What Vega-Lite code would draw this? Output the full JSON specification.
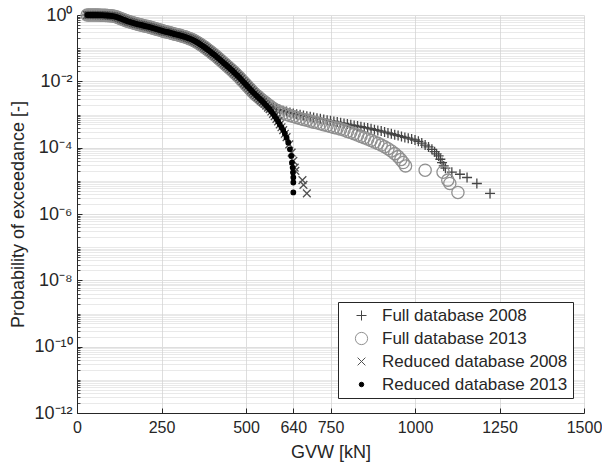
{
"$schema": "https://vega.github.io/schema/vega-lite/v6.json",
"width": 507, "height": 398,
"autosize": {"type": "none"},
"padding": {"left": 77, "top": 15, "right": 18, "bottom": 57},
"background": "white",
"config": {"view": {"stroke": null}, "font": "Liberation Sans"},
"datasets": {
"pts": [
{"series":"Full database 2008","gvw":30,"p":1},{"series":"Full database 2008","gvw":35,"p":1},{"series":"Full database 2008","gvw":40,"p":1},{"series":"Full database 2008","gvw":45,"p":1},{"series":"Full database 2008","gvw":50,"p":1},{"series":"Full database 2008","gvw":55,"p":1},{"series":"Full database 2008","gvw":60,"p":1},{"series":"Full database 2008","gvw":65,"p":0.9931},{"series":"Full database 2008","gvw":70,"p":0.9886},{"series":"Full database 2008","gvw":75,"p":0.984},{"series":"Full database 2008","gvw":80,"p":0.977},{"series":"Full database 2008","gvw":85,"p":0.973},{"series":"Full database 2008","gvw":90,"p":0.966},{"series":"Full database 2008","gvw":95,"p":0.955},{"series":"Full database 2008","gvw":100,"p":0.944},{"series":"Full database 2008","gvw":105,"p":0.929},{"series":"Full database 2008","gvw":110,"p":0.912},{"series":"Full database 2008","gvw":115,"p":0.881},{"series":"Full database 2008","gvw":120,"p":0.851},{"series":"Full database 2008","gvw":125,"p":0.813},{"series":"Full database 2008","gvw":130,"p":0.776},{"series":"Full database 2008","gvw":135,"p":0.741},{"series":"Full database 2008","gvw":140,"p":0.708},{"series":"Full database 2008","gvw":145,"p":0.676},{"series":"Full database 2008","gvw":150,"p":0.646},{"series":"Full database 2008","gvw":155,"p":0.624},{"series":"Full database 2008","gvw":160,"p":0.603},{"series":"Full database 2008","gvw":165,"p":0.582},{"series":"Full database 2008","gvw":170,"p":0.562},{"series":"Full database 2008","gvw":175,"p":0.543},{"series":"Full database 2008","gvw":180,"p":0.525},{"series":"Full database 2008","gvw":185,"p":0.513},{"series":"Full database 2008","gvw":190,"p":0.501},{"series":"Full database 2008","gvw":195,"p":0.484},{"series":"Full database 2008","gvw":200,"p":0.468},{"series":"Full database 2008","gvw":205,"p":0.457},{"series":"Full database 2008","gvw":210,"p":0.447},{"series":"Full database 2008","gvw":215,"p":0.432},{"series":"Full database 2008","gvw":220,"p":0.417},{"series":"Full database 2008","gvw":225,"p":0.403},{"series":"Full database 2008","gvw":230,"p":0.389},{"series":"Full database 2008","gvw":235,"p":0.376},{"series":"Full database 2008","gvw":240,"p":0.363},{"series":"Full database 2008","gvw":245,"p":0.351},{"series":"Full database 2008","gvw":250,"p":0.339},{"series":"Full database 2008","gvw":255,"p":0.327},{"series":"Full database 2008","gvw":260,"p":0.316},{"series":"Full database 2008","gvw":265,"p":0.309},{"series":"Full database 2008","gvw":270,"p":0.302},{"series":"Full database 2008","gvw":275,"p":0.292},{"series":"Full database 2008","gvw":280,"p":0.282},{"series":"Full database 2008","gvw":285,"p":0.272},{"series":"Full database 2008","gvw":290,"p":0.263},{"series":"Full database 2008","gvw":295,"p":0.257},{"series":"Full database 2008","gvw":300,"p":0.251},{"series":"Full database 2008","gvw":305,"p":0.243},{"series":"Full database 2008","gvw":310,"p":0.234},{"series":"Full database 2008","gvw":315,"p":0.226},{"series":"Full database 2008","gvw":320,"p":0.219},{"series":"Full database 2008","gvw":325,"p":0.209},{"series":"Full database 2008","gvw":330,"p":0.2},{"series":"Full database 2008","gvw":335,"p":0.191},{"series":"Full database 2008","gvw":340,"p":0.182},{"series":"Full database 2008","gvw":345,"p":0.172},{"series":"Full database 2008","gvw":350,"p":0.162},{"series":"Full database 2008","gvw":355,"p":0.151},{"series":"Full database 2008","gvw":360,"p":0.141},{"series":"Full database 2008","gvw":365,"p":0.13},{"series":"Full database 2008","gvw":370,"p":0.12},{"series":"Full database 2008","gvw":375,"p":0.111},{"series":"Full database 2008","gvw":380,"p":0.102},{"series":"Full database 2008","gvw":385,"p":0.0933},{"series":"Full database 2008","gvw":390,"p":0.0851},{"series":"Full database 2008","gvw":395,"p":0.0776},{"series":"Full database 2008","gvw":400,"p":0.0708},{"series":"Full database 2008","gvw":405,"p":0.0646},{"series":"Full database 2008","gvw":410,"p":0.0589},{"series":"Full database 2008","gvw":415,"p":0.0531},{"series":"Full database 2008","gvw":420,"p":0.0479},{"series":"Full database 2008","gvw":425,"p":0.0432},{"series":"Full database 2008","gvw":430,"p":0.0389},{"series":"Full database 2008","gvw":435,"p":0.0351},{"series":"Full database 2008","gvw":440,"p":0.0316},{"series":"Full database 2008","gvw":445,"p":0.0285},{"series":"Full database 2008","gvw":450,"p":0.0257},{"series":"Full database 2008","gvw":455,"p":0.0232},{"series":"Full database 2008","gvw":460,"p":0.0209},{"series":"Full database 2008","gvw":465,"p":0.0186},{"series":"Full database 2008","gvw":470,"p":0.0166},{"series":"Full database 2008","gvw":475,"p":0.0148},{"series":"Full database 2008","gvw":480,"p":0.0132},{"series":"Full database 2008","gvw":485,"p":0.0116},{"series":"Full database 2008","gvw":490,"p":0.0102},{"series":"Full database 2008","gvw":495,"p":0.00902},{"series":"Full database 2008","gvw":500,"p":0.00794},{"series":"Full database 2008","gvw":505,"p":0.007},{"series":"Full database 2008","gvw":510,"p":0.00617},{"series":"Full database 2008","gvw":515,"p":0.00543},{"series":"Full database 2008","gvw":520,"p":0.00479},{"series":"Full database 2008","gvw":525,"p":0.00427},{"series":"Full database 2008","gvw":530,"p":0.0038},
{"series":"Full database 2008","gvw":535,"p":0.00363},{"series":"Full database 2008","gvw":540,"p":0.00331},{"series":"Full database 2008","gvw":545,"p":0.00302},{"series":"Full database 2008","gvw":550,"p":0.00275},{"series":"Full database 2008","gvw":555,"p":0.00257},{"series":"Full database 2008","gvw":560,"p":0.0024},{"series":"Full database 2008","gvw":570,"p":0.00204},{"series":"Full database 2008","gvw":580,"p":0.00178},{"series":"Full database 2008","gvw":590,"p":0.00158},{"series":"Full database 2008","gvw":600,"p":0.00141},{"series":"Full database 2008","gvw":610,"p":0.0013},{"series":"Full database 2008","gvw":620,"p":0.00123},{"series":"Full database 2008","gvw":630,"p":0.00115},{"series":"Full database 2008","gvw":640,"p":0.00108},{"series":"Full database 2008","gvw":650,"p":0.00102},{"series":"Full database 2008","gvw":660,"p":0.000977},{"series":"Full database 2008","gvw":670,"p":0.000933},{"series":"Full database 2008","gvw":680,"p":0.000891},{"series":"Full database 2008","gvw":690,"p":0.000851},{"series":"Full database 2008","gvw":700,"p":0.000813},{"series":"Full database 2008","gvw":710,"p":0.000776},{"series":"Full database 2008","gvw":720,"p":0.000741},{"series":"Full database 2008","gvw":730,"p":0.000708},{"series":"Full database 2008","gvw":740,"p":0.000676},{"series":"Full database 2008","gvw":750,"p":0.000646},{"series":"Full database 2008","gvw":760,"p":0.000617},{"series":"Full database 2008","gvw":770,"p":0.000589},{"series":"Full database 2008","gvw":780,"p":0.000562},{"series":"Full database 2008","gvw":790,"p":0.000537},{"series":"Full database 2008","gvw":800,"p":0.000513},{"series":"Full database 2008","gvw":810,"p":0.00049},{"series":"Full database 2008","gvw":820,"p":0.000468},{"series":"Full database 2008","gvw":830,"p":0.000447},{"series":"Full database 2008","gvw":840,"p":0.000427},{"series":"Full database 2008","gvw":850,"p":0.000407},{"series":"Full database 2008","gvw":860,"p":0.000389},{"series":"Full database 2008","gvw":870,"p":0.000372},{"series":"Full database 2008","gvw":880,"p":0.000347},{"series":"Full database 2008","gvw":890,"p":0.000331},{"series":"Full database 2008","gvw":900,"p":0.000316},{"series":"Full database 2008","gvw":910,"p":0.000295},{"series":"Full database 2008","gvw":920,"p":0.000279},{"series":"Full database 2008","gvw":930,"p":0.000263},{"series":"Full database 2008","gvw":940,"p":0.000245},{"series":"Full database 2008","gvw":950,"p":0.000232},{"series":"Full database 2008","gvw":960,"p":0.000219},{"series":"Full database 2008","gvw":970,"p":0.000204},{"series":"Full database 2008","gvw":980,"p":0.000193},{"series":"Full database 2008","gvw":990,"p":0.000182},{"series":"Full database 2008","gvw":1000,"p":0.00017},{"series":"Full database 2008","gvw":1010,"p":0.000155},{"series":"Full database 2008","gvw":1020,"p":0.000138},{"series":"Full database 2008","gvw":1030,"p":0.00012},{"series":"Full database 2008","gvw":1040,"p":0.000105},{"series":"Full database 2008","gvw":1050,"p":0.0000891},{"series":"Full database 2008","gvw":1058,"p":0.0000759},{"series":"Full database 2008","gvw":1064,"p":0.0000646},{"series":"Full database 2008","gvw":1070,"p":0.0000562},{"series":"Full database 2008","gvw":1075,"p":0.0000447},{"series":"Full database 2008","gvw":1080,"p":0.0000355},{"series":"Full database 2008","gvw":1085,"p":0.0000282},{"series":"Full database 2008","gvw":1090,"p":0.000024},{"series":"Full database 2008","gvw":1109,"p":0.0000182},{"series":"Full database 2008","gvw":1133,"p":0.0000158},{"series":"Full database 2008","gvw":1154,"p":0.0000126},{"series":"Full database 2008","gvw":1183,"p":0.00000832},{"series":"Full database 2008","gvw":1222,"p":0.00000417},
{"series":"Full database 2013","gvw":30,"p":1},{"series":"Full database 2013","gvw":35,"p":1},{"series":"Full database 2013","gvw":40,"p":1},{"series":"Full database 2013","gvw":45,"p":1},{"series":"Full database 2013","gvw":50,"p":1},{"series":"Full database 2013","gvw":55,"p":1},{"series":"Full database 2013","gvw":60,"p":1},{"series":"Full database 2013","gvw":65,"p":0.9931},{"series":"Full database 2013","gvw":70,"p":0.9886},{"series":"Full database 2013","gvw":75,"p":0.984},{"series":"Full database 2013","gvw":80,"p":0.977},{"series":"Full database 2013","gvw":85,"p":0.973},{"series":"Full database 2013","gvw":90,"p":0.966},{"series":"Full database 2013","gvw":95,"p":0.955},{"series":"Full database 2013","gvw":100,"p":0.944},{"series":"Full database 2013","gvw":105,"p":0.929},{"series":"Full database 2013","gvw":110,"p":0.912},{"series":"Full database 2013","gvw":115,"p":0.881},{"series":"Full database 2013","gvw":120,"p":0.851},{"series":"Full database 2013","gvw":125,"p":0.813},{"series":"Full database 2013","gvw":130,"p":0.776},{"series":"Full database 2013","gvw":135,"p":0.741},{"series":"Full database 2013","gvw":140,"p":0.708},{"series":"Full database 2013","gvw":145,"p":0.676},{"series":"Full database 2013","gvw":150,"p":0.646},{"series":"Full database 2013","gvw":155,"p":0.624},{"series":"Full database 2013","gvw":160,"p":0.603},{"series":"Full database 2013","gvw":165,"p":0.582},{"series":"Full database 2013","gvw":170,"p":0.562},{"series":"Full database 2013","gvw":175,"p":0.543},{"series":"Full database 2013","gvw":180,"p":0.525},{"series":"Full database 2013","gvw":185,"p":0.513},{"series":"Full database 2013","gvw":190,"p":0.501},{"series":"Full database 2013","gvw":195,"p":0.484},{"series":"Full database 2013","gvw":200,"p":0.468},{"series":"Full database 2013","gvw":205,"p":0.457},{"series":"Full database 2013","gvw":210,"p":0.447},{"series":"Full database 2013","gvw":215,"p":0.432},{"series":"Full database 2013","gvw":220,"p":0.417},{"series":"Full database 2013","gvw":225,"p":0.403},{"series":"Full database 2013","gvw":230,"p":0.389},{"series":"Full database 2013","gvw":235,"p":0.376},{"series":"Full database 2013","gvw":240,"p":0.363},{"series":"Full database 2013","gvw":245,"p":0.351},{"series":"Full database 2013","gvw":250,"p":0.339},{"series":"Full database 2013","gvw":255,"p":0.327},{"series":"Full database 2013","gvw":260,"p":0.316},{"series":"Full database 2013","gvw":265,"p":0.309},{"series":"Full database 2013","gvw":270,"p":0.302},{"series":"Full database 2013","gvw":275,"p":0.292},{"series":"Full database 2013","gvw":280,"p":0.282},{"series":"Full database 2013","gvw":285,"p":0.272},{"series":"Full database 2013","gvw":290,"p":0.263},{"series":"Full database 2013","gvw":295,"p":0.257},{"series":"Full database 2013","gvw":300,"p":0.251},{"series":"Full database 2013","gvw":305,"p":0.243},{"series":"Full database 2013","gvw":310,"p":0.234},{"series":"Full database 2013","gvw":315,"p":0.226},{"series":"Full database 2013","gvw":320,"p":0.219},{"series":"Full database 2013","gvw":325,"p":0.209},{"series":"Full database 2013","gvw":330,"p":0.2},{"series":"Full database 2013","gvw":335,"p":0.191},{"series":"Full database 2013","gvw":340,"p":0.182},{"series":"Full database 2013","gvw":345,"p":0.172},{"series":"Full database 2013","gvw":350,"p":0.162},{"series":"Full database 2013","gvw":355,"p":0.151},{"series":"Full database 2013","gvw":360,"p":0.141},{"series":"Full database 2013","gvw":365,"p":0.13},{"series":"Full database 2013","gvw":370,"p":0.12},{"series":"Full database 2013","gvw":375,"p":0.111},{"series":"Full database 2013","gvw":380,"p":0.102},{"series":"Full database 2013","gvw":385,"p":0.0933},{"series":"Full database 2013","gvw":390,"p":0.0851},{"series":"Full database 2013","gvw":395,"p":0.0776},{"series":"Full database 2013","gvw":400,"p":0.0708},{"series":"Full database 2013","gvw":405,"p":0.0646},{"series":"Full database 2013","gvw":410,"p":0.0589},{"series":"Full database 2013","gvw":415,"p":0.0531},{"series":"Full database 2013","gvw":420,"p":0.0479},{"series":"Full database 2013","gvw":425,"p":0.0432},{"series":"Full database 2013","gvw":430,"p":0.0389},{"series":"Full database 2013","gvw":435,"p":0.0351},{"series":"Full database 2013","gvw":440,"p":0.0316},{"series":"Full database 2013","gvw":445,"p":0.0285},{"series":"Full database 2013","gvw":450,"p":0.0257},{"series":"Full database 2013","gvw":455,"p":0.0232},{"series":"Full database 2013","gvw":460,"p":0.0209},{"series":"Full database 2013","gvw":465,"p":0.0186},{"series":"Full database 2013","gvw":470,"p":0.0166},{"series":"Full database 2013","gvw":475,"p":0.0148},{"series":"Full database 2013","gvw":480,"p":0.0132},{"series":"Full database 2013","gvw":485,"p":0.0116},{"series":"Full database 2013","gvw":490,"p":0.0102},{"series":"Full database 2013","gvw":495,"p":0.00902},{"series":"Full database 2013","gvw":500,"p":0.00794},{"series":"Full database 2013","gvw":505,"p":0.007},{"series":"Full database 2013","gvw":510,"p":0.00617},{"series":"Full database 2013","gvw":515,"p":0.00543},{"series":"Full database 2013","gvw":520,"p":0.00479},{"series":"Full database 2013","gvw":525,"p":0.00427},{"series":"Full database 2013","gvw":530,"p":0.0038},
{"series":"Full database 2013","gvw":535,"p":0.00355},{"series":"Full database 2013","gvw":540,"p":0.00316},{"series":"Full database 2013","gvw":545,"p":0.00285},{"series":"Full database 2013","gvw":550,"p":0.00257},{"series":"Full database 2013","gvw":555,"p":0.00237},{"series":"Full database 2013","gvw":560,"p":0.00219},{"series":"Full database 2013","gvw":570,"p":0.00182},{"series":"Full database 2013","gvw":580,"p":0.00155},{"series":"Full database 2013","gvw":590,"p":0.00135},{"series":"Full database 2013","gvw":600,"p":0.0012},{"series":"Full database 2013","gvw":610,"p":0.0011},{"series":"Full database 2013","gvw":620,"p":0.001},{"series":"Full database 2013","gvw":630,"p":0.000933},{"series":"Full database 2013","gvw":640,"p":0.000871},{"series":"Full database 2013","gvw":650,"p":0.000813},{"series":"Full database 2013","gvw":660,"p":0.000759},{"series":"Full database 2013","gvw":670,"p":0.000708},{"series":"Full database 2013","gvw":680,"p":0.000676},{"series":"Full database 2013","gvw":690,"p":0.000631},{"series":"Full database 2013","gvw":700,"p":0.000589},{"series":"Full database 2013","gvw":710,"p":0.000562},{"series":"Full database 2013","gvw":720,"p":0.000525},{"series":"Full database 2013","gvw":730,"p":0.00049},{"series":"Full database 2013","gvw":740,"p":0.000468},{"series":"Full database 2013","gvw":750,"p":0.000437},{"series":"Full database 2013","gvw":760,"p":0.000407},{"series":"Full database 2013","gvw":770,"p":0.000389},{"series":"Full database 2013","gvw":780,"p":0.000363},{"series":"Full database 2013","gvw":790,"p":0.000339},{"series":"Full database 2013","gvw":800,"p":0.000309},{"series":"Full database 2013","gvw":810,"p":0.000288},{"series":"Full database 2013","gvw":820,"p":0.000263},{"series":"Full database 2013","gvw":830,"p":0.00024},{"series":"Full database 2013","gvw":840,"p":0.000219},{"series":"Full database 2013","gvw":850,"p":0.0002},{"series":"Full database 2013","gvw":860,"p":0.000182},{"series":"Full database 2013","gvw":870,"p":0.000166},{"series":"Full database 2013","gvw":880,"p":0.000148},{"series":"Full database 2013","gvw":890,"p":0.000135},{"series":"Full database 2013","gvw":900,"p":0.00012},{"series":"Full database 2013","gvw":910,"p":0.000107},{"series":"Full database 2013","gvw":920,"p":0.0000933},{"series":"Full database 2013","gvw":930,"p":0.0000794},{"series":"Full database 2013","gvw":940,"p":0.0000661},{"series":"Full database 2013","gvw":950,"p":0.0000537},{"series":"Full database 2013","gvw":958,"p":0.0000437},{"series":"Full database 2013","gvw":965,"p":0.0000355},{"series":"Full database 2013","gvw":972,"p":0.0000282},{"series":"Full database 2013","gvw":1030,"p":0.0000209},{"series":"Full database 2013","gvw":1083,"p":0.0000182},{"series":"Full database 2013","gvw":1097,"p":0.0000105},{"series":"Full database 2013","gvw":1103,"p":0.00000832},{"series":"Full database 2013","gvw":1127,"p":0.00000447},
{"series":"Reduced database 2008","gvw":30,"p":1},{"series":"Reduced database 2008","gvw":35,"p":1},{"series":"Reduced database 2008","gvw":40,"p":1},{"series":"Reduced database 2008","gvw":45,"p":1},{"series":"Reduced database 2008","gvw":50,"p":1},{"series":"Reduced database 2008","gvw":55,"p":1},{"series":"Reduced database 2008","gvw":60,"p":1},{"series":"Reduced database 2008","gvw":65,"p":0.9931},{"series":"Reduced database 2008","gvw":70,"p":0.9886},{"series":"Reduced database 2008","gvw":75,"p":0.984},{"series":"Reduced database 2008","gvw":80,"p":0.977},{"series":"Reduced database 2008","gvw":85,"p":0.973},{"series":"Reduced database 2008","gvw":90,"p":0.966},{"series":"Reduced database 2008","gvw":95,"p":0.955},{"series":"Reduced database 2008","gvw":100,"p":0.944},{"series":"Reduced database 2008","gvw":105,"p":0.929},{"series":"Reduced database 2008","gvw":110,"p":0.912},{"series":"Reduced database 2008","gvw":115,"p":0.881},{"series":"Reduced database 2008","gvw":120,"p":0.851},{"series":"Reduced database 2008","gvw":125,"p":0.813},{"series":"Reduced database 2008","gvw":130,"p":0.776},{"series":"Reduced database 2008","gvw":135,"p":0.741},{"series":"Reduced database 2008","gvw":140,"p":0.708},{"series":"Reduced database 2008","gvw":145,"p":0.676},{"series":"Reduced database 2008","gvw":150,"p":0.646},{"series":"Reduced database 2008","gvw":155,"p":0.624},{"series":"Reduced database 2008","gvw":160,"p":0.603},{"series":"Reduced database 2008","gvw":165,"p":0.582},{"series":"Reduced database 2008","gvw":170,"p":0.562},{"series":"Reduced database 2008","gvw":175,"p":0.543},{"series":"Reduced database 2008","gvw":180,"p":0.525},{"series":"Reduced database 2008","gvw":185,"p":0.513},{"series":"Reduced database 2008","gvw":190,"p":0.501},{"series":"Reduced database 2008","gvw":195,"p":0.484},{"series":"Reduced database 2008","gvw":200,"p":0.468},{"series":"Reduced database 2008","gvw":205,"p":0.457},{"series":"Reduced database 2008","gvw":210,"p":0.447},{"series":"Reduced database 2008","gvw":215,"p":0.432},{"series":"Reduced database 2008","gvw":220,"p":0.417},{"series":"Reduced database 2008","gvw":225,"p":0.403},{"series":"Reduced database 2008","gvw":230,"p":0.389},{"series":"Reduced database 2008","gvw":235,"p":0.376},{"series":"Reduced database 2008","gvw":240,"p":0.363},{"series":"Reduced database 2008","gvw":245,"p":0.351},{"series":"Reduced database 2008","gvw":250,"p":0.339},{"series":"Reduced database 2008","gvw":255,"p":0.327},{"series":"Reduced database 2008","gvw":260,"p":0.316},{"series":"Reduced database 2008","gvw":265,"p":0.309},{"series":"Reduced database 2008","gvw":270,"p":0.302},{"series":"Reduced database 2008","gvw":275,"p":0.292},{"series":"Reduced database 2008","gvw":280,"p":0.282},{"series":"Reduced database 2008","gvw":285,"p":0.272},{"series":"Reduced database 2008","gvw":290,"p":0.263},{"series":"Reduced database 2008","gvw":295,"p":0.257},{"series":"Reduced database 2008","gvw":300,"p":0.251},{"series":"Reduced database 2008","gvw":305,"p":0.243},{"series":"Reduced database 2008","gvw":310,"p":0.234},{"series":"Reduced database 2008","gvw":315,"p":0.226},{"series":"Reduced database 2008","gvw":320,"p":0.219},{"series":"Reduced database 2008","gvw":325,"p":0.209},{"series":"Reduced database 2008","gvw":330,"p":0.2},{"series":"Reduced database 2008","gvw":335,"p":0.191},{"series":"Reduced database 2008","gvw":340,"p":0.182},{"series":"Reduced database 2008","gvw":345,"p":0.172},{"series":"Reduced database 2008","gvw":350,"p":0.162},{"series":"Reduced database 2008","gvw":355,"p":0.151},{"series":"Reduced database 2008","gvw":360,"p":0.141},{"series":"Reduced database 2008","gvw":365,"p":0.13},{"series":"Reduced database 2008","gvw":370,"p":0.12},{"series":"Reduced database 2008","gvw":375,"p":0.111},{"series":"Reduced database 2008","gvw":380,"p":0.102},{"series":"Reduced database 2008","gvw":385,"p":0.0933},{"series":"Reduced database 2008","gvw":390,"p":0.0851},{"series":"Reduced database 2008","gvw":395,"p":0.0776},{"series":"Reduced database 2008","gvw":400,"p":0.0708},{"series":"Reduced database 2008","gvw":405,"p":0.0646},{"series":"Reduced database 2008","gvw":410,"p":0.0589},{"series":"Reduced database 2008","gvw":415,"p":0.0531},{"series":"Reduced database 2008","gvw":420,"p":0.0479},{"series":"Reduced database 2008","gvw":425,"p":0.0432},{"series":"Reduced database 2008","gvw":430,"p":0.0389},{"series":"Reduced database 2008","gvw":435,"p":0.0351},{"series":"Reduced database 2008","gvw":440,"p":0.0316},{"series":"Reduced database 2008","gvw":445,"p":0.0285},{"series":"Reduced database 2008","gvw":450,"p":0.0257},{"series":"Reduced database 2008","gvw":455,"p":0.0232},{"series":"Reduced database 2008","gvw":460,"p":0.0209},{"series":"Reduced database 2008","gvw":465,"p":0.0186},{"series":"Reduced database 2008","gvw":470,"p":0.0166},{"series":"Reduced database 2008","gvw":475,"p":0.0148},{"series":"Reduced database 2008","gvw":480,"p":0.0132},{"series":"Reduced database 2008","gvw":485,"p":0.0116},{"series":"Reduced database 2008","gvw":490,"p":0.0102},{"series":"Reduced database 2008","gvw":495,"p":0.00902},{"series":"Reduced database 2008","gvw":500,"p":0.00794},{"series":"Reduced database 2008","gvw":505,"p":0.007},{"series":"Reduced database 2008","gvw":510,"p":0.00617},{"series":"Reduced database 2008","gvw":515,"p":0.00543},{"series":"Reduced database 2008","gvw":520,"p":0.00479},{"series":"Reduced database 2008","gvw":525,"p":0.00427},{"series":"Reduced database 2008","gvw":530,"p":0.0038},
{"series":"Reduced database 2008","gvw":535,"p":0.00339},{"series":"Reduced database 2008","gvw":540,"p":0.00302},{"series":"Reduced database 2008","gvw":545,"p":0.00269},{"series":"Reduced database 2008","gvw":550,"p":0.0024},{"series":"Reduced database 2008","gvw":555,"p":0.00211},{"series":"Reduced database 2008","gvw":560,"p":0.00186},{"series":"Reduced database 2008","gvw":565,"p":0.00162},{"series":"Reduced database 2008","gvw":570,"p":0.00145},{"series":"Reduced database 2008","gvw":575,"p":0.00123},{"series":"Reduced database 2008","gvw":580,"p":0.00105},{"series":"Reduced database 2008","gvw":585,"p":0.000891},{"series":"Reduced database 2008","gvw":590,"p":0.000741},{"series":"Reduced database 2008","gvw":595,"p":0.000617},{"series":"Reduced database 2008","gvw":600,"p":0.000501},{"series":"Reduced database 2008","gvw":605,"p":0.000412},{"series":"Reduced database 2008","gvw":610,"p":0.000339},{"series":"Reduced database 2008","gvw":615,"p":0.000263},{"series":"Reduced database 2008","gvw":620,"p":0.000209},{"series":"Reduced database 2008","gvw":628,"p":0.000126},{"series":"Reduced database 2008","gvw":635,"p":0.0000708},{"series":"Reduced database 2008","gvw":640,"p":0.0000398},{"series":"Reduced database 2008","gvw":644,"p":0.0000251},{"series":"Reduced database 2008","gvw":646,"p":0.00002},{"series":"Reduced database 2008","gvw":667,"p":0.0000105},{"series":"Reduced database 2008","gvw":670,"p":0.00000759},{"series":"Reduced database 2008","gvw":680,"p":0.00000417},
{"series":"Reduced database 2013","gvw":30,"p":1},{"series":"Reduced database 2013","gvw":35,"p":1},{"series":"Reduced database 2013","gvw":40,"p":1},{"series":"Reduced database 2013","gvw":45,"p":1},{"series":"Reduced database 2013","gvw":50,"p":1},{"series":"Reduced database 2013","gvw":55,"p":1},{"series":"Reduced database 2013","gvw":60,"p":1},{"series":"Reduced database 2013","gvw":65,"p":0.9931},{"series":"Reduced database 2013","gvw":70,"p":0.9886},{"series":"Reduced database 2013","gvw":75,"p":0.984},{"series":"Reduced database 2013","gvw":80,"p":0.977},{"series":"Reduced database 2013","gvw":85,"p":0.973},{"series":"Reduced database 2013","gvw":90,"p":0.966},{"series":"Reduced database 2013","gvw":95,"p":0.955},{"series":"Reduced database 2013","gvw":100,"p":0.944},{"series":"Reduced database 2013","gvw":105,"p":0.929},{"series":"Reduced database 2013","gvw":110,"p":0.912},{"series":"Reduced database 2013","gvw":115,"p":0.881},{"series":"Reduced database 2013","gvw":120,"p":0.851},{"series":"Reduced database 2013","gvw":125,"p":0.813},{"series":"Reduced database 2013","gvw":130,"p":0.776},{"series":"Reduced database 2013","gvw":135,"p":0.741},{"series":"Reduced database 2013","gvw":140,"p":0.708},{"series":"Reduced database 2013","gvw":145,"p":0.676},{"series":"Reduced database 2013","gvw":150,"p":0.646},{"series":"Reduced database 2013","gvw":155,"p":0.624},{"series":"Reduced database 2013","gvw":160,"p":0.603},{"series":"Reduced database 2013","gvw":165,"p":0.582},{"series":"Reduced database 2013","gvw":170,"p":0.562},{"series":"Reduced database 2013","gvw":175,"p":0.543},{"series":"Reduced database 2013","gvw":180,"p":0.525},{"series":"Reduced database 2013","gvw":185,"p":0.513},{"series":"Reduced database 2013","gvw":190,"p":0.501},{"series":"Reduced database 2013","gvw":195,"p":0.484},{"series":"Reduced database 2013","gvw":200,"p":0.468},{"series":"Reduced database 2013","gvw":205,"p":0.457},{"series":"Reduced database 2013","gvw":210,"p":0.447},{"series":"Reduced database 2013","gvw":215,"p":0.432},{"series":"Reduced database 2013","gvw":220,"p":0.417},{"series":"Reduced database 2013","gvw":225,"p":0.403},{"series":"Reduced database 2013","gvw":230,"p":0.389},{"series":"Reduced database 2013","gvw":235,"p":0.376},{"series":"Reduced database 2013","gvw":240,"p":0.363},{"series":"Reduced database 2013","gvw":245,"p":0.351},{"series":"Reduced database 2013","gvw":250,"p":0.339},{"series":"Reduced database 2013","gvw":255,"p":0.327},{"series":"Reduced database 2013","gvw":260,"p":0.316},{"series":"Reduced database 2013","gvw":265,"p":0.309},{"series":"Reduced database 2013","gvw":270,"p":0.302},{"series":"Reduced database 2013","gvw":275,"p":0.292},{"series":"Reduced database 2013","gvw":280,"p":0.282},{"series":"Reduced database 2013","gvw":285,"p":0.272},{"series":"Reduced database 2013","gvw":290,"p":0.263},{"series":"Reduced database 2013","gvw":295,"p":0.257},{"series":"Reduced database 2013","gvw":300,"p":0.251},{"series":"Reduced database 2013","gvw":305,"p":0.243},{"series":"Reduced database 2013","gvw":310,"p":0.234},{"series":"Reduced database 2013","gvw":315,"p":0.226},{"series":"Reduced database 2013","gvw":320,"p":0.219},{"series":"Reduced database 2013","gvw":325,"p":0.209},{"series":"Reduced database 2013","gvw":330,"p":0.2},{"series":"Reduced database 2013","gvw":335,"p":0.191},{"series":"Reduced database 2013","gvw":340,"p":0.182},{"series":"Reduced database 2013","gvw":345,"p":0.172},{"series":"Reduced database 2013","gvw":350,"p":0.162},{"series":"Reduced database 2013","gvw":355,"p":0.151},{"series":"Reduced database 2013","gvw":360,"p":0.141},{"series":"Reduced database 2013","gvw":365,"p":0.13},{"series":"Reduced database 2013","gvw":370,"p":0.12},{"series":"Reduced database 2013","gvw":375,"p":0.111},{"series":"Reduced database 2013","gvw":380,"p":0.102},{"series":"Reduced database 2013","gvw":385,"p":0.0933},{"series":"Reduced database 2013","gvw":390,"p":0.0851},{"series":"Reduced database 2013","gvw":395,"p":0.0776},{"series":"Reduced database 2013","gvw":400,"p":0.0708},{"series":"Reduced database 2013","gvw":405,"p":0.0646},{"series":"Reduced database 2013","gvw":410,"p":0.0589},{"series":"Reduced database 2013","gvw":415,"p":0.0531},{"series":"Reduced database 2013","gvw":420,"p":0.0479},{"series":"Reduced database 2013","gvw":425,"p":0.0432},{"series":"Reduced database 2013","gvw":430,"p":0.0389},{"series":"Reduced database 2013","gvw":435,"p":0.0351},{"series":"Reduced database 2013","gvw":440,"p":0.0316},{"series":"Reduced database 2013","gvw":445,"p":0.0285},{"series":"Reduced database 2013","gvw":450,"p":0.0257},{"series":"Reduced database 2013","gvw":455,"p":0.0232},{"series":"Reduced database 2013","gvw":460,"p":0.0209},{"series":"Reduced database 2013","gvw":465,"p":0.0186},{"series":"Reduced database 2013","gvw":470,"p":0.0166},{"series":"Reduced database 2013","gvw":475,"p":0.0148},{"series":"Reduced database 2013","gvw":480,"p":0.0132},{"series":"Reduced database 2013","gvw":485,"p":0.0116},{"series":"Reduced database 2013","gvw":490,"p":0.0102},{"series":"Reduced database 2013","gvw":495,"p":0.00902},{"series":"Reduced database 2013","gvw":500,"p":0.00794},{"series":"Reduced database 2013","gvw":505,"p":0.007},{"series":"Reduced database 2013","gvw":510,"p":0.00617},{"series":"Reduced database 2013","gvw":515,"p":0.00543},{"series":"Reduced database 2013","gvw":520,"p":0.00479},{"series":"Reduced database 2013","gvw":525,"p":0.00427},{"series":"Reduced database 2013","gvw":530,"p":0.0038},
{"series":"Reduced database 2013","gvw":535,"p":0.00339},{"series":"Reduced database 2013","gvw":540,"p":0.00302},{"series":"Reduced database 2013","gvw":545,"p":0.00269},{"series":"Reduced database 2013","gvw":550,"p":0.0024},{"series":"Reduced database 2013","gvw":555,"p":0.00211},{"series":"Reduced database 2013","gvw":560,"p":0.00186},{"series":"Reduced database 2013","gvw":565,"p":0.00162},{"series":"Reduced database 2013","gvw":570,"p":0.00145},{"series":"Reduced database 2013","gvw":575,"p":0.00123},{"series":"Reduced database 2013","gvw":580,"p":0.00105},{"series":"Reduced database 2013","gvw":585,"p":0.000891},{"series":"Reduced database 2013","gvw":590,"p":0.000741},{"series":"Reduced database 2013","gvw":595,"p":0.000617},{"series":"Reduced database 2013","gvw":600,"p":0.000501},{"series":"Reduced database 2013","gvw":605,"p":0.000412},{"series":"Reduced database 2013","gvw":610,"p":0.000339},{"series":"Reduced database 2013","gvw":615,"p":0.000263},{"series":"Reduced database 2013","gvw":620,"p":0.0002},{"series":"Reduced database 2013","gvw":625,"p":0.000141},{"series":"Reduced database 2013","gvw":630,"p":0.0000891},{"series":"Reduced database 2013","gvw":634,"p":0.0000562},{"series":"Reduced database 2013","gvw":636,"p":0.0000355},{"series":"Reduced database 2013","gvw":638,"p":0.0000251},{"series":"Reduced database 2013","gvw":639,"p":0.0000178},{"series":"Reduced database 2013","gvw":640,"p":0.0000126},{"series":"Reduced database 2013","gvw":640,"p":0.00000891},{"series":"Reduced database 2013","gvw":640,"p":0.00000447}
]
},
"data": {"name": "pts"},
"layer": [
{
"mark": {"type": "point", "opacity": 0},
"encoding": {
"x": {"field": "gvw", "type": "quantitative", "scale": {"domain": [0, 1500], "nice": false, "zero": false}, "axis": null},
"y": {"field": "p", "type": "quantitative", "scale": {"type": "log", "domain": [1e-12, 1], "nice": false},
"axis": {"orient": "left", "values": [2e-12,3e-12,4e-12,5e-12,6e-12,7e-12,8e-12,9e-12,1e-11,2e-11,3e-11,4e-11,5e-11,6e-11,7e-11,8e-11,9e-11,2e-10,3e-10,4e-10,5e-10,6e-10,7e-10,8e-10,9e-10,1e-9,2e-9,3e-9,4e-9,5e-9,6e-9,7e-9,8e-9,9e-9,2e-8,3e-8,4e-8,5e-8,6e-8,7e-8,8e-8,9e-8,1e-7,2e-7,3e-7,4e-7,5e-7,6e-7,7e-7,8e-7,9e-7,2e-6,3e-6,4e-6,5e-6,6e-6,7e-6,8e-6,9e-6,1e-5,2e-5,3e-5,4e-5,5e-5,6e-5,7e-5,8e-5,9e-5,2e-4,3e-4,4e-4,5e-4,6e-4,7e-4,8e-4,9e-4,1e-3,2e-3,3e-3,4e-3,5e-3,6e-3,7e-3,8e-3,9e-3,2e-2,3e-2,4e-2,5e-2,6e-2,7e-2,8e-2,9e-2,0.1,0.2,0.3,0.4,0.5,0.6,0.7,0.8,0.9],
"grid": true, "gridColor": "#d2d2d2", "gridDash": [1, 1], "gridWidth": 1,
"labels": false, "domain": false, "ticks": true, "tickSize": -3, "tickColor": "#262626", "tickWidth": 0.8, "title": null}}
}
},
{
"mark": {"type": "point", "filled": false, "strokeWidth": 1.3, "opacity": 1},
"encoding": {
"x": {"field": "gvw", "type": "quantitative", "scale": {"domain": [0, 1500], "nice": false, "zero": false},
"axis": {"orient": "bottom", "values": [0, 250, 500, 640, 750, 1000, 1250, 1500], "format": "d", "title": "GVW [kN]", "grid": true, "gridColor": "#dedede", "gridWidth": 1,
"domainColor": "#262626", "domainWidth": 1, "tickColor": "#262626", "tickSize": -5, "labelPadding": 11,
"labelFont": "Liberation Sans", "labelFontSize": 16, "labelColor": "#262626", "labelFlush": false, "labelOverlap": false,
"titleFont": "Liberation Sans", "titleFontSize": 18, "titleFontWeight": "normal", "titleColor": "#262626", "titlePadding": 8}},
"y": {"field": "p", "type": "quantitative", "scale": {"type": "log", "domain": [1e-12, 1], "nice": false},
"axis": {"orient": "left", "values": [1, 0.01, 0.0001, 1e-6, 1e-8, 1e-10, 1e-12], "title": "Probability of exceedance [-]",
"labelExpr": "['10⁰','','10⁻²','','10⁻⁴','','10⁻⁶','','10⁻⁸','','10⁻¹⁰','','10⁻¹²'][-round(log(datum.value)/LN10)]",
"grid": true, "gridColor": "#dedede", "gridWidth": 1,
"domainColor": "#262626", "domainWidth": 1, "tickColor": "#262626", "tickSize": -5, "labelPadding": 10,
"labelFont": "Liberation Sans", "labelFontSize": 18, "labelColor": "#262626", "labelFlush": false, "labelOverlap": false,
"titleFont": "Liberation Sans", "titleFontSize": 18, "titleFontWeight": "normal", "titleColor": "#262626", "titlePadding": 6}},
"shape": {"field": "series", "type": "nominal",
"scale": {"domain": ["Full database 2008", "Full database 2013", "Reduced database 2008", "Reduced database 2013"],
"range": ["M-1,0L1,0M0,-1L0,1", "circle", "M-1,-1L1,1M1,-1L-1,1", "circle"]},
"legend": {"orient": "none", "legendX": 261, "legendY": 287, "title": null,
"labelFont": "Liberation Sans", "labelFontSize": 17, "labelColor": "#262626", "labelLimit": 300,
"strokeColor": "#262626", "fillColor": "white", "padding": 5, "rowPadding": 5, "symbolOffset": 10, "labelOffset": 12, "symbolStrokeWidth": 1, "cornerRadius": 0}},
"size": {"field": "series", "type": "nominal",
"scale": {"type": "ordinal", "domain": ["Full database 2008", "Full database 2013", "Reduced database 2008", "Reduced database 2013"], "range": [100, 150, 60, 20]}},
"stroke": {"field": "series", "type": "nominal",
"scale": {"domain": ["Full database 2008", "Full database 2013", "Reduced database 2008", "Reduced database 2013"], "range": ["#454545", "#909090", "#505050", "#000000"]}},
"fill": {"field": "series", "type": "nominal",
"scale": {"domain": ["Full database 2008", "Full database 2013", "Reduced database 2008", "Reduced database 2013"], "range": ["transparent", "transparent", "transparent", "#000000"]}}
}
}
],
"resolve": {"axis": {"x": "independent", "y": "independent"}}
}
